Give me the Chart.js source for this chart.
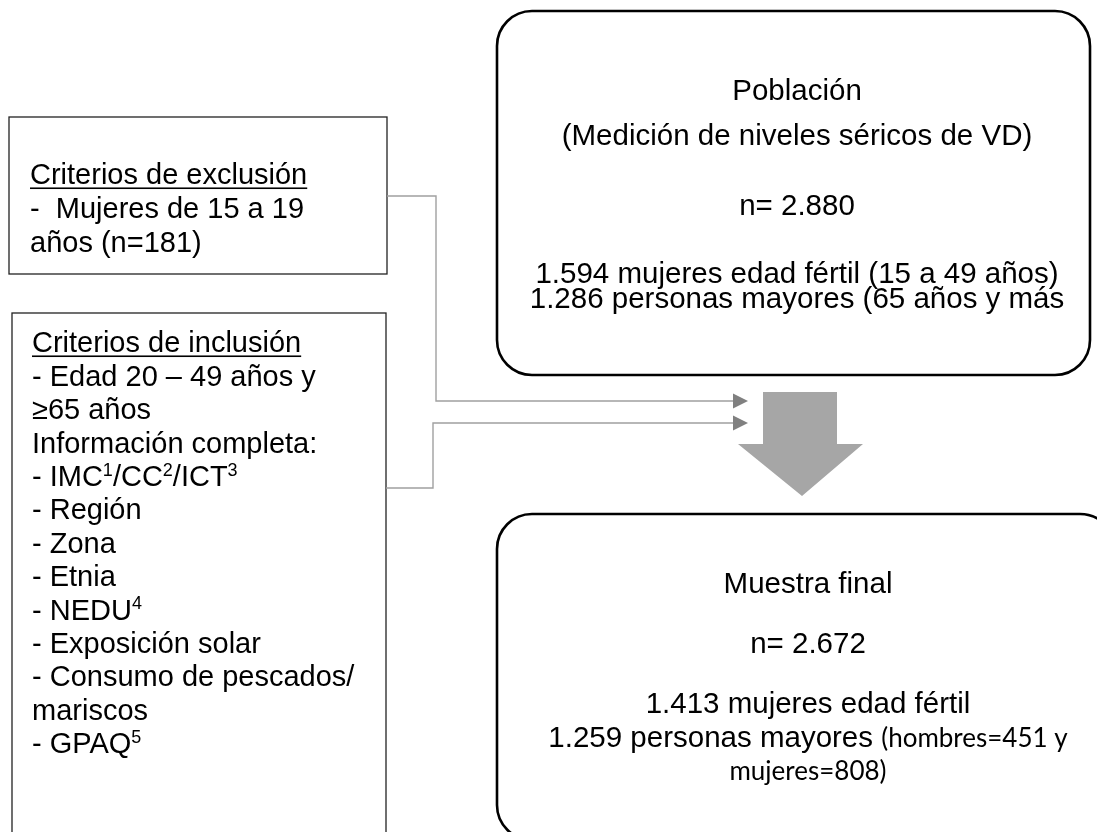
<!DOCTYPE html>
<html><head><meta charset="utf-8">
<script src="https://cdn.jsdelivr.net/npm/chart.js@4"></script>
<style>html,body{margin:0;padding:0;background:#fff}canvas{display:block}</style>
</head><body>
<canvas id="c" width="1097" height="832"></canvas>
<script>
// ---- content (data) ----
const exclusionLines = ['Criterios de exclusión', '-  Mujeres de 15 a 19', 'años (n=181)'];
const inclusionLines = ['Criterios de inclusión', '- Edad 20 – 49 años y', '≥65 años', 'Información completa:',
  '- IMC^1/CC^2/ICT^3', '- Región', '- Zona', '- Etnia', '- NEDU^4', '- Exposición solar',
  '- Consumo de pescados/', 'mariscos', '- GPAQ^5'];
const populationLines = ['Población', '(Medición de niveles séricos de VD)', 'n= 2.880',
  '1.594 mujeres edad fértil (15 a 49 años)', '1.286 personas mayores (65 años y más'];
const sampleLines = ['Muestra final', 'n= 2.672', '1.413 mujeres edad fértil', '1.259 personas mayores ', ''];
const sampleNotes = ['', '', '', '(hombres=451 y', 'mujeres=808)'];

// ---- layout (pixel units on the hidden linear scales) ----
const L = {
  excl: {x0: 9, y0: 117, x1: 387, y1: 274, tx: 30, rows: [174, 208, 242]},
  incl: {x0: 12, y0: 313, x1: 386, y1: 845, tx: 32, rowStart: 342, rowStep: 33.4},
  pop: {x0: 497, y0: 11, x1: 1090, y1: 375, r: 35, cx: 797, rows: [89, 134, 204, 272, 297]},
  samp: {x0: 497, y0: 514, x1: 1115, y1: 840, r: 35, cx: 808, rows: [582, 642, 702, 736, 769]},
  conn: [
    [[387, 196], [436, 196], [436, 401], [733, 401]],
    [[386, 488], [433, 488], [433, 423], [733, 423]]
  ],
  bigArrow: [[763, 392], [837, 392], [837, 444], [863, 444], [802, 496], [738, 444], [763, 444]]
};
const FONT = '"Liberation Sans", Arial, sans-serif';

const flowPlugin = {
  id: 'flow',
  afterDraw(chart) {
    const ctx = chart.ctx;
    const X = v => chart.scales.x.getPixelForValue(v);
    const Y = v => chart.scales.y.getPixelForValue(v);
    ctx.save();

    function rect(b) {
      ctx.strokeStyle = '#222'; ctx.lineWidth = 1.3;
      ctx.strokeRect(X(b.x0), Y(b.y0), X(b.x1) - X(b.x0), Y(b.y1) - Y(b.y0));
    }
    function rrect(b) {
      ctx.strokeStyle = '#000'; ctx.lineWidth = 2.6;
      ctx.beginPath();
      ctx.roundRect(X(b.x0), Y(b.y0), X(b.x1) - X(b.x0), Y(b.y1) - Y(b.y0), b.r);
      ctx.stroke();
    }
    // draws text with ^n superscripts; returns width
    function rich(str, x, y, size) {
      const parts = str.split(/(\^\d)/).filter(s => s.length);
      let cx = x;
      for (const p of parts) {
        if (p[0] === '^') {
          ctx.font = Math.round(size * 0.62) + 'px ' + FONT;
          ctx.fillText(p.slice(1), cx, y - size * 0.36);
          cx += ctx.measureText(p.slice(1)).width;
        } else {
          ctx.font = size + 'px ' + FONT;
          ctx.fillText(p, cx, y);
          cx += ctx.measureText(p).width;
        }
      }
      return cx - x;
    }

    // left boxes
    rect(L.excl); rect(L.incl);
    ctx.fillStyle = '#000'; ctx.textAlign = 'left'; ctx.textBaseline = 'alphabetic';
    const sz = 29;
    exclusionLines.forEach((t, i) => {
      const y = Y(L.excl.rows[i]) + sz * 0.36;
      const w = rich(t, X(L.excl.tx), y, sz);
      if (i === 0) { ctx.fillRect(X(L.excl.tx), y + 3, w, 1.6); }
    });
    inclusionLines.forEach((t, i) => {
      const y = Y(L.incl.rowStart + i * L.incl.rowStep) + sz * 0.36;
      const w = rich(t, X(L.incl.tx), y, sz);
      if (i === 0) { ctx.fillRect(X(L.incl.tx), y + 3, w, 1.6); }
    });

    // rounded boxes
    rrect(L.pop); rrect(L.samp);
    const bs = 29.5;
    ctx.textAlign = 'center';
    ctx.font = bs + 'px ' + FONT;
    populationLines.forEach((t, i) => {
      ctx.fillText(t, X(L.pop.cx), Y(L.pop.rows[i]) + bs * 0.36);
    });
    sampleLines.forEach((t, i) => {
      const note = sampleNotes[i];
      const y = Y(L.samp.rows[i]) + bs * 0.36;
      if (!note) { ctx.font = bs + 'px ' + FONT; ctx.fillText(t, X(L.samp.cx), y); return; }
      ctx.font = bs + 'px ' + FONT; const w1 = ctx.measureText(t).width;
      const nf = '26px Lato, "Open Sans", sans-serif';
      ctx.font = nf; const w2 = ctx.measureText(note).width;
      const start = X(L.samp.cx) - (w1 + w2) / 2;
      ctx.textAlign = 'left';
      ctx.font = bs + 'px ' + FONT; ctx.fillText(t, start, y);
      ctx.font = nf; ctx.fillText(note, start + w1, y);
      ctx.textAlign = 'center';
    });

    // connectors
    ctx.strokeStyle = '#a0a0a0'; ctx.lineWidth = 1.4;
    L.conn.forEach(pts => {
      ctx.beginPath();
      pts.forEach((p, i) => i ? ctx.lineTo(X(p[0]), Y(p[1])) : ctx.moveTo(X(p[0]), Y(p[1])));
      ctx.stroke();
      const end = pts[pts.length - 1];
      ctx.fillStyle = '#808080';
      ctx.beginPath();
      ctx.moveTo(X(end[0]), Y(end[1] - 7.5));
      ctx.lineTo(X(end[0] + 15), Y(end[1]));
      ctx.lineTo(X(end[0]), Y(end[1] + 7.5));
      ctx.closePath(); ctx.fill();
    });

    // big arrow
    ctx.fillStyle = '#a6a6a6';
    ctx.beginPath();
    L.bigArrow.forEach((p, i) => i ? ctx.lineTo(X(p[0]), Y(p[1])) : ctx.moveTo(X(p[0]), Y(p[1])));
    ctx.closePath(); ctx.fill();
    ctx.restore();
  }
};

new Chart(document.getElementById('c'), {
  type: 'scatter',
  data: {datasets: [{data: [], pointRadius: 0}]},
  options: {
    responsive: false, animation: false, events: [],
    layout: {padding: 0},
    scales: {
      x: {type: 'linear', min: 0, max: 1097, display: false},
      y: {type: 'linear', min: 0, max: 832, reverse: true, display: false}
    },
    plugins: {legend: {display: false}, tooltip: {enabled: false}}
  },
  plugins: [flowPlugin]
});
</script>
</body></html>
